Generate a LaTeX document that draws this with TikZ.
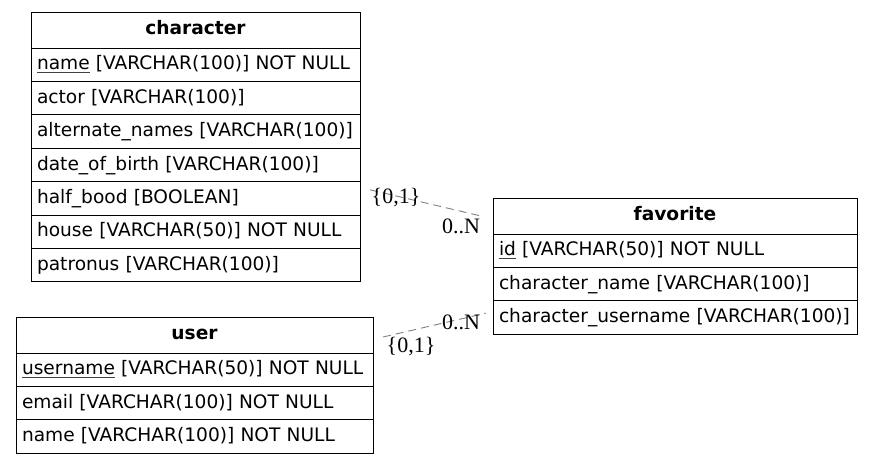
\documentclass[tikz,border=0pt]{standalone}
\usepackage{fontspec}
\setmainfont{DejaVu Sans}
\newfontfamily\lblfont{Liberation Serif}
\usetikzlibrary{calc}
\newcommand\keyf[1]{\setbox0\hbox{#1}\rlap{\color{darkgray}\rule[-3.2pt]{\wd0}{0.9pt}}#1}
\tikzset{
  x=1pt, y=-1pt,
  cell/.style={draw=black, line width=1pt, anchor=north west, inner xsep=6pt, inner ysep=0pt,
    outer sep=0pt, minimum height=33.4pt, text height=13.5pt, text depth=3pt, align=left,
    font=\fontsize{18.6}{22}\selectfont},
  hdr/.style={draw=black, line width=1pt, anchor=north west, inner sep=0pt, outer sep=0pt,
    minimum height=36pt, text height=13.5pt, text depth=4pt, align=center,
    font=\fontsize{18.6}{22}\selectfont\bfseries},
  rel/.style={draw=gray, line width=0.9pt, dash pattern=on 8pt off 5pt},
  card/.style={inner sep=0pt, font=\lblfont\fontsize{22}{24}\selectfont}
}
\begin{document}
\begin{tikzpicture}
\useasboundingbox (0,0) rectangle (872,464);
% character
\def\cw{329}
\node[hdr, minimum width=\cw pt, text width=\cw pt] (character-h) at (31,12) {character};
\node[cell, text width=\cw pt - 12pt] (character-name) at (character-h.south west) {\keyf{name} [VARCHAR(100)] NOT NULL};
\node[cell, text width=\cw pt - 12pt] (character-actor) at (character-name.south west) {actor [VARCHAR(100)]};
\node[cell, text width=\cw pt - 12pt] (character-alt) at (character-actor.south west) {alternate\_names [VARCHAR(100)]};
\node[cell, text width=\cw pt - 12pt] (character-dob) at (character-alt.south west) {date\_of\_birth [VARCHAR(100)]};
\node[cell, text width=\cw pt - 12pt] (character-half) at (character-dob.south west) {half\_bood [BOOLEAN]};
\node[cell, text width=\cw pt - 12pt] (character-house) at (character-half.south west) {house [VARCHAR(50)] NOT NULL};
\node[cell, text width=\cw pt - 12pt] (character-patronus) at (character-house.south west) {patronus [VARCHAR(100)]};
% favorite
\def\fw{364}
\node[hdr, minimum width=\fw pt, text width=\fw pt] (favorite-h) at (493,198) {favorite};
\node[cell, text width=\fw pt - 12pt] (favorite-id) at (favorite-h.south west) {\keyf{id} [VARCHAR(50)] NOT NULL};
\node[cell, text width=\fw pt - 12pt] (favorite-cname) at (favorite-id.south west) {character\_name [VARCHAR(100)]};
\node[cell, text width=\fw pt - 12pt] (favorite-cuser) at (favorite-cname.south west) {character\_username [VARCHAR(100)]};
% user
\def\uw{357}
\node[hdr, minimum width=\uw pt, text width=\uw pt] (user-h) at (16,317) {user};
\node[cell, text width=\uw pt - 12pt] (user-username) at (user-h.south west) {\keyf{username} [VARCHAR(50)] NOT NULL};
\node[cell, text width=\uw pt - 12pt] (user-email) at (user-username.south west) {email [VARCHAR(100)] NOT NULL};
\node[cell, text width=\uw pt - 12pt] (user-name) at (user-email.south west) {name [VARCHAR(100)] NOT NULL};
% relations
\draw[rel] ($(character-half.east)+(10,-8.5)$) -- ($(favorite-h.west)+(-12,0)$);
\draw[rel] ($(user-h.east)+(10,2)$) -- ($(favorite-cuser.west)+(-7,-4.4)$);
% cardinalities
\node[card] (l1a) at (396,198) {\{0,1\}};
\node[card] (l1b) at (461,226) {0..N};
\node[card] (l2a) at (461,322) {0..N};
\node[card] (l2b) at (411,347) {\{0,1\}};
\end{tikzpicture}
\end{document}
